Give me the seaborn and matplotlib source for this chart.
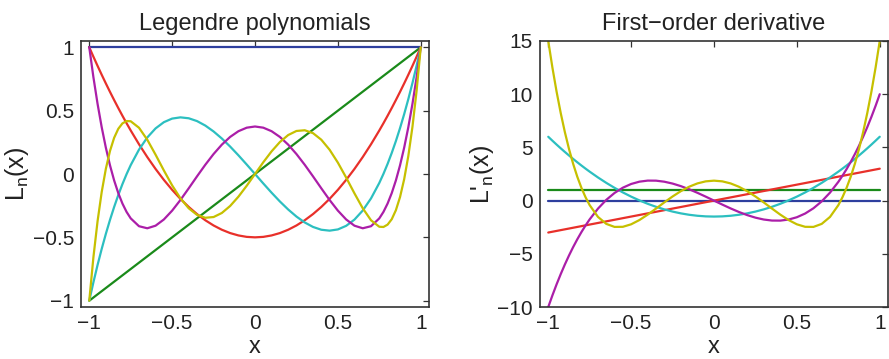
import numpy as np
import pandas as pd
import matplotlib
matplotlib.use("Agg")
import matplotlib.pyplot as plt
import seaborn as sns

# ---------------- data ----------------
x = [-1.0, -0.975, -0.95, -0.925, -0.9, -0.875, -0.85, -0.825, -0.8, -0.775, -0.75,
     -0.7, -0.65, -0.6, -0.55, -0.5, -0.45, -0.4, -0.35, -0.3, -0.25, -0.2, -0.15, -0.1, -0.05,
     0.0, 0.05, 0.1, 0.15, 0.2, 0.25, 0.3, 0.35, 0.4, 0.45, 0.5, 0.55, 0.6, 0.65, 0.7,
     0.75, 0.775, 0.8, 0.825, 0.85, 0.875, 0.9, 0.925, 0.95, 0.975, 1.0]

L0 = [1.0] * 51
L1 = [-1.0, -0.975, -0.95, -0.925, -0.9, -0.875, -0.85, -0.825, -0.8, -0.775, -0.75,
      -0.7, -0.65, -0.6, -0.55, -0.5, -0.45, -0.4, -0.35, -0.3, -0.25, -0.2, -0.15, -0.1, -0.05,
      0.0, 0.05, 0.1, 0.15, 0.2, 0.25, 0.3, 0.35, 0.4, 0.45, 0.5, 0.55, 0.6, 0.65, 0.7,
      0.75, 0.775, 0.8, 0.825, 0.85, 0.875, 0.9, 0.925, 0.95, 0.975, 1.0]
L2 = [1.0, 0.9259, 0.8538, 0.7834, 0.715, 0.6484, 0.5838, 0.5209, 0.46, 0.4009, 0.3438,
      0.235, 0.1338, 0.04, -0.0463, -0.125, -0.1963, -0.26, -0.3163, -0.365, -0.4063, -0.44,
      -0.4663, -0.485, -0.4963, -0.5, -0.4963, -0.485, -0.4663, -0.44, -0.4063, -0.365,
      -0.3163, -0.26, -0.1963, -0.125, -0.0463, 0.04, 0.1338, 0.235,
      0.3438, 0.4009, 0.46, 0.5209, 0.5838, 0.6484, 0.715, 0.7834, 0.8538, 0.9259, 1.0]
L3 = [-1.0, -0.8546, -0.7184, -0.5911, -0.4725, -0.3623, -0.2603, -0.1663, -0.08, -0.0012, 0.0703,
      0.1925, 0.2884, 0.36, 0.4091, 0.4375, 0.4472, 0.44, 0.4178, 0.3825, 0.3359, 0.28, 0.2166,
      0.1475, 0.0747, 0.0, -0.0747, -0.1475, -0.2166, -0.28, -0.3359, -0.3825, -0.4178, -0.44,
      -0.4472, -0.4375, -0.4091, -0.36, -0.2884, -0.1925,
      -0.0703, 0.0012, 0.08, 0.1663, 0.2603, 0.3623, 0.4725, 0.5911, 0.7184, 0.8546, 1.0]
L4 = [1.0, 0.7638, 0.5541, 0.3693, 0.2079, 0.0685, -0.0506, -0.1506, -0.233, -0.2991, -0.3501,
      -0.4121, -0.4284, -0.408, -0.359, -0.2891, -0.205, -0.113, -0.0187, 0.0729, 0.1577, 0.232,
      0.2928, 0.3379, 0.3657, 0.375, 0.3657, 0.3379, 0.2928, 0.232, 0.1577, 0.0729, -0.0187,
      -0.113, -0.205, -0.2891, -0.359, -0.408, -0.4284, -0.4121,
      -0.3501, -0.2991, -0.233, -0.1506, -0.0506, 0.0685, 0.2079, 0.3693, 0.5541, 0.7638, 1.0]
L5 = [-1.0, -0.6567, -0.3727, -0.142, 0.0411, 0.182, 0.2857, 0.3568, 0.3995, 0.4182, 0.4164,
      0.3652, 0.2705, 0.1526, 0.0282, -0.0898, -0.1917, -0.2706, -0.3225, -0.3454, -0.3397,
      -0.3075, -0.2523, -0.1788, -0.0927, 0.0, 0.0927, 0.1788, 0.2523, 0.3075, 0.3397, 0.3454,
      0.3225, 0.2706, 0.1917, 0.0898, -0.0282, -0.1526, -0.2705, -0.3652,
      -0.4164, -0.4182, -0.3995, -0.3568, -0.2857, -0.182, -0.0411, 0.142, 0.3727, 0.6567, 1.0]

D0 = [0.0] * 51
D1 = [1.0] * 51
D2 = [-3.0, -2.925, -2.85, -2.775, -2.7, -2.625, -2.55, -2.475, -2.4, -2.325, -2.25,
      -2.1, -1.95, -1.8, -1.65, -1.5, -1.35, -1.2, -1.05, -0.9, -0.75, -0.6, -0.45, -0.3, -0.15,
      0.0, 0.15, 0.3, 0.45, 0.6, 0.75, 0.9, 1.05, 1.2, 1.35, 1.5, 1.65, 1.8, 1.95, 2.1,
      2.25, 2.325, 2.4, 2.475, 2.55, 2.625, 2.7, 2.775, 2.85, 2.925, 3.0]
D3 = [6.0, 5.6297, 5.2688, 4.9172, 4.575, 4.2422, 3.9188, 3.6047, 3.3, 3.0047, 2.7188,
      2.175, 1.6688, 1.2, 0.7688, 0.375, 0.0188, -0.3, -0.5813, -0.825, -1.0313, -1.2, -1.3313,
      -1.425, -1.4813, -1.5, -1.4813, -1.425, -1.3313, -1.2, -1.0313, -0.825, -0.5813, -0.3,
      0.0188, 0.375, 0.7688, 1.2, 1.6688, 2.175,
      2.7188, 3.0047, 3.3, 3.6047, 3.9188, 4.2422, 4.575, 4.9172, 5.2688, 5.6297, 6.0]
D4 = [-10.0, -8.9075, -7.8791, -6.9129, -6.0075, -5.1611, -4.3722, -3.639, -2.96, -2.3335, -1.7578,
      -0.7525, 0.0691, 0.72, 1.2134, 1.5625, 1.7803, 1.88, 1.8747, 1.7775, 1.6016, 1.36, 1.0659,
      0.7325, 0.3728, 0.0, -0.3728, -0.7325, -1.0659, -1.36, -1.6016, -1.7775, -1.8747, -1.88,
      -1.7803, -1.5625, -1.2134, -0.72, -0.0691, 0.7525,
      1.7578, 2.3335, 2.96, 3.639, 4.3722, 5.1611, 6.0075, 6.9129, 7.8791, 8.9075, 10.0]
D5 = [15.0, 12.5038, 10.2556, 8.2411, 6.4464, 4.8582, 3.4634, 2.2491, 1.203, 0.3131, -0.4321,
      -1.5336, -2.1869, -2.472, -2.4626, -2.2266, -1.826, -1.317, -0.7498, -0.1686, 0.3882, 0.888,
      1.3043, 1.6164, 1.8096, 1.875, 1.8096, 1.6164, 1.3043, 0.888, 0.3882, -0.1686, -0.7498,
      -1.317, -1.826, -2.2266, -2.4626, -2.472, -2.1869, -1.5336,
      -0.4321, 0.3131, 1.203, 2.2491, 3.4634, 4.8582, 6.4464, 8.2411, 10.2556, 12.5038, 15.0]

x_ticks = [-1, -0.5, 0, 0.5, 1]
x_tick_labels = ["\u22121", "\u22120.5", "0", "0.5", "1"]
y1_ticks = [-1, -0.5, 0, 0.5, 1]
y1_tick_labels = ["\u22121", "\u22120.5", "0", "0.5", "1"]
y2_ticks = [-10, -5, 0, 5, 10, 15]
y2_tick_labels = ["\u221210", "\u22125", "0", "5", "10", "15"]

titles = ["Legendre polynomials", "First\u2212order derivative"]
orders = ["0", "1", "2", "3", "4", "5"]
colors = ["#2e3f9e", "#1a8a1a", "#e8302a", "#2cbfc0", "#ab1ea8", "#c6c000"]

# ---------------- long-form tables ----------------
def long_table(series):
    frames = []
    for name, vals in zip(orders, series):
        frames.append(pd.DataFrame({"x": x, "y": vals, "n": name}))
    return pd.concat(frames, ignore_index=True)

df_poly = long_table([L0, L1, L2, L3, L4, L5])
df_der = long_table([D0, D1, D2, D3, D4, D5])

# ---------------- styling ----------------
sns.set_style("white")
plt.rcParams["font.family"] = ["Liberation Sans", "DejaVu Sans"]
plt.rcParams["mathtext.fontset"] = "custom"
plt.rcParams["mathtext.rm"] = "Liberation Sans"
plt.rcParams["mathtext.it"] = "Liberation Sans"
plt.rcParams["mathtext.bf"] = "Liberation Sans:bold"

fig = plt.figure(figsize=(8.89, 3.59), dpi=100)
ax1 = fig.add_axes([0.0911, 0.1448, 0.3915, 0.741])
ax2 = fig.add_axes([0.6074, 0.1448, 0.3915, 0.741])

palette = dict(zip(orders, colors))
for ax, df in ((ax1, df_poly), (ax2, df_der)):
    sns.lineplot(data=df, x="x", y="y", hue="n", palette=palette, ax=ax,
                 legend=False, sort=False, estimator=None, linewidth=1.6)

for ax, title in zip((ax1, ax2), titles):
    ax.set_xlim(-1.05, 1.05)
    ax.set_xticks(x_ticks)
    ax.set_xticklabels(x_tick_labels)
    ax.set_title(title, fontsize=17, pad=8, color="#222222")
    ax.set_xlabel("x", fontsize=17, labelpad=2, color="#222222")
    ax.tick_params(direction="in", top=True, right=True, length=4, width=0.9,
                   colors="#333333", labelsize=15, labelcolor="#222222", pad=5)
    for sp in ax.spines.values():
        sp.set_color("#333333")
        sp.set_linewidth(1.2)

ax1.set_ylim(-1.05, 1.05)
ax1.set_yticks(y1_ticks)
ax1.set_yticklabels(y1_tick_labels)
ax1.set_ylabel(r"L$_\mathregular{n}$(x)", fontsize=18, labelpad=1, color="#222222")

ax2.set_ylim(-10, 15)
ax2.set_yticks(y2_ticks)
ax2.set_yticklabels(y2_tick_labels)
ax2.set_ylabel(r"L$'_\mathregular{n}$(x)", fontsize=18, labelpad=1, color="#222222")

fig.savefig("out.png", dpi=100)
